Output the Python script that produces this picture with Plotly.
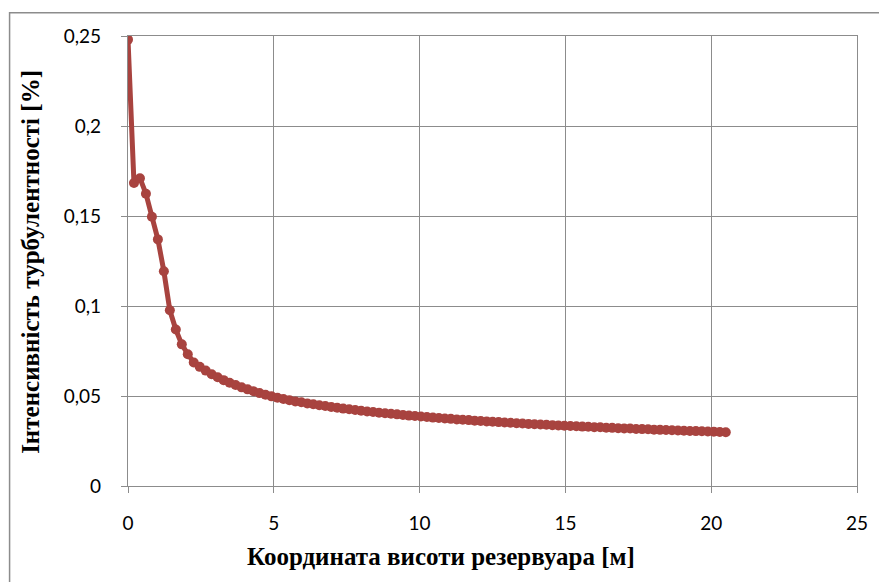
import plotly.graph_objects as go

# Height coordinate along the reservoir, m
height_m = [
    0.0, 0.205, 0.41, 0.615, 0.82, 1.025, 1.23, 1.435, 1.64, 1.845,
    2.05, 2.255, 2.46, 2.665, 2.87, 3.075, 3.28, 3.485, 3.69, 3.895,
    4.1, 4.305, 4.51, 4.715, 4.92, 5.125, 5.33, 5.535, 5.74, 5.945,
    6.15, 6.355, 6.56, 6.765, 6.97, 7.175, 7.38, 7.585, 7.79, 7.995,
    8.2, 8.405, 8.61, 8.815, 9.02, 9.225, 9.43, 9.635, 9.84, 10.045,
    10.25, 10.455, 10.66, 10.865, 11.07, 11.275, 11.48, 11.685, 11.89, 12.095,
    12.3, 12.505, 12.71, 12.915, 13.12, 13.325, 13.53, 13.735, 13.94, 14.145,
    14.35, 14.555, 14.76, 14.965, 15.17, 15.375, 15.58, 15.785, 15.99, 16.195,
    16.4, 16.605, 16.81, 17.015, 17.22, 17.425, 17.63, 17.835, 18.04, 18.245,
    18.45, 18.655, 18.86, 19.065, 19.27, 19.475, 19.68, 19.885, 20.09, 20.295,
    20.5,
]

# Turbulence intensity, %
intensity = [
    0.2480, 0.1683, 0.1710, 0.1624, 0.1496, 0.1370, 0.1193, 0.0976, 0.0869, 0.0787,
    0.0732, 0.0686, 0.0662, 0.0641, 0.0621, 0.0604, 0.0588, 0.0574, 0.0561, 0.0548,
    0.0537, 0.0526, 0.0516, 0.0507, 0.0498, 0.0490, 0.0483, 0.0477, 0.0470, 0.0465,
    0.0459, 0.0454, 0.0449, 0.0444, 0.0439, 0.0435, 0.0430, 0.0426, 0.0422, 0.0418,
    0.0414, 0.0411, 0.0407, 0.0404, 0.0401, 0.0398, 0.0394, 0.0391, 0.0389, 0.0386,
    0.0383, 0.0380, 0.0378, 0.0375, 0.0373, 0.0370, 0.0368, 0.0366, 0.0363, 0.0361,
    0.0359, 0.0357, 0.0355, 0.0353, 0.0351, 0.0349, 0.0347, 0.0345, 0.0343, 0.0342,
    0.0340, 0.0338, 0.0336, 0.0335, 0.0333, 0.0332, 0.0330, 0.0329, 0.0327, 0.0326,
    0.0324, 0.0323, 0.0321, 0.0320, 0.0319, 0.0317, 0.0316, 0.0315, 0.0313, 0.0312,
    0.0311, 0.0310, 0.0308, 0.0307, 0.0306, 0.0305, 0.0304, 0.0303, 0.0302, 0.0300,
    0.0299,
]

x_ticks = [0, 5, 10, 15, 20, 25]
y_ticks = [0, 0.05, 0.1, 0.15, 0.2, 0.25]

x_title = "Координата висоти резервуара [м]"
y_title = "Інтенсивність турбулентності [%]"

line_color = "#A8433F"
grid_color = "#8C8C8C"

# Plot-area geometry in pixels
W, H = 879, 582
L, R, T, B = 127.5, 22, 35.7, 96.3
PW, PH = W - L - R, H - T - B


def px_to_paper_x(px):
    return (px - L) / PW


def px_to_paper_y(py):
    return (H - B - py) / PH


fig = go.Figure()
fig.add_trace(go.Scatter(
    x=height_m,
    y=intensity,
    mode="lines+markers",
    line=dict(color=line_color, width=5),
    marker=dict(color=line_color, size=10),
    showlegend=False,
))

tick_font = dict(family="Lato, 'Open Sans', sans-serif", size=19, color="#000000")
title_font = dict(family="'Liberation Serif', 'Times New Roman', serif", size=25, color="#000000")

fig.update_xaxes(
    range=[0, 25],
    tickvals=x_ticks,
    showgrid=True, gridcolor=grid_color, gridwidth=1.3,
    showline=True, linecolor=grid_color, linewidth=1.3, mirror=True,
    ticks="outside", ticklen=6, tickcolor=grid_color, tickwidth=1.3,
    ticklabelstandoff=14,
    tickfont=tick_font,
    zeroline=False,
)
fig.update_yaxes(
    range=[0, 0.25],
    tickvals=y_ticks,
    tickformat="~g",
    showgrid=True, gridcolor=grid_color, gridwidth=1.3,
    showline=True, linecolor=grid_color, linewidth=1.3, mirror=True,
    ticks="outside", ticklen=6, tickcolor=grid_color, tickwidth=1.3,
    ticklabelstandoff=16,
    tickfont=tick_font,
    zeroline=False,
)

# Axis titles
fig.add_annotation(
    text="<b>" + x_title + "</b>", font=title_font, showarrow=False,
    xref="paper", yref="paper",
    x=px_to_paper_x(441), y=px_to_paper_y(556),
    xanchor="center", yanchor="middle",
)
fig.add_annotation(
    text="<b>" + y_title + "</b>", font=title_font, showarrow=False,
    xref="paper", yref="paper", textangle=-90,
    x=px_to_paper_x(30), y=px_to_paper_y(262),
    xanchor="center", yanchor="middle",
)

# Chart-area frame (left and top edges visible, the rest runs off the canvas)
fig.add_shape(
    type="rect", xref="paper", yref="paper",
    x0=px_to_paper_x(9), x1=px_to_paper_x(W + 20),
    y0=px_to_paper_y(H + 20), y1=px_to_paper_y(12.5),
    line=dict(color="#8C8C8C", width=1.5),
    fillcolor="rgba(0,0,0,0)",
    layer="below",
)

fig.update_layout(
    width=W, height=H,
    margin=dict(l=L, r=R, t=T, b=B, autoexpand=False),
    paper_bgcolor="#FFFFFF",
    plot_bgcolor="#FFFFFF",
    separators=", ",
)

fig.write_html("out.html")
